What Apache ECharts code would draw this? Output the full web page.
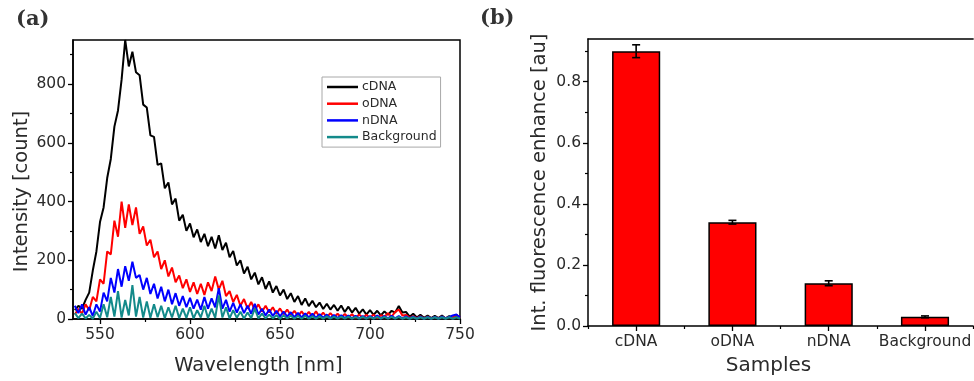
<!DOCTYPE html>
<html>
<head>
<meta charset="utf-8">
<style>html,body{margin:0;padding:0;background:#fff;}#chart{width:974px;height:381px;}</style>
<script src="https://cdn.jsdelivr.net/npm/echarts@6/dist/echarts.min.js"></script>
</head>
<body>
<div id="chart"></div>
<script>
// ---- Panel (a): emission spectra ----
const wavelengths = [
  536,538,540,542,544,546,548,550,552,554,
  556,558,560,562,564,566,568,570,572,574,
  576,578,580,582,584,586,588,590,592,594,
  596,598,600,602,604,606,608,610,612,614,
  616,618,620,622,624,626,628,630,632,634,
  636,638,640,642,644,646,648,650,652,654,
  656,658,660,662,664,666,668,670,672,674,
  676,678,680,682,684,686,688,690,692,694,
  696,698,700,702,704,706,708,710,712,714,
  716,718,720,722,724,726,728,730,732,734,
  736,738,740,742,744,746,748,750
];
const cDNA = [
  30,45,35,65,90,165,230,330,380,480,
  545,655,710,815,950,860,910,840,830,730,
  720,625,620,525,530,445,465,390,410,335,
  355,300,325,278,305,262,290,248,280,240,
  285,235,260,210,232,182,200,155,178,135,
  158,118,142,102,128,90,112,80,100,68,
  88,58,78,48,70,44,62,40,56,34,
  52,32,48,28,46,24,42,22,38,18,
  33,15,30,14,28,12,26,14,28,22,
  44,22,24,8,18,5,14,4,12,3,
  11,3,12,2,10,3,12,5
];
const oDNA = [
  15,35,18,50,30,75,60,135,120,230,
  220,335,280,400,310,390,320,380,290,315,
  250,270,210,230,170,200,145,175,125,148,
  105,135,92,125,85,120,82,125,95,145,
  100,130,78,95,58,82,45,68,35,58,
  30,50,25,45,22,40,18,36,16,32,
  12,28,10,26,9,24,8,26,7,22,
  6,20,6,18,5,17,5,16,4,15,
  4,14,4,15,3,13,8,20,8,24,
  32,12,14,4,10,3,9,2,8,2,
  7,2,8,2,7,5,14,4
];
const nDNA = [
  45,20,50,15,40,10,50,25,90,60,
  140,90,170,110,180,130,195,140,150,100,
  140,85,120,70,110,60,100,50,88,45,
  78,40,72,35,66,32,75,35,70,40,
  105,35,65,25,55,22,50,20,45,18,
  52,15,35,12,32,10,28,9,25,8,
  23,6,21,5,19,5,18,4,16,4,
  15,3,14,3,13,3,12,2,11,2,
  10,2,10,2,12,2,10,2,11,2,
  10,2,9,2,8,1,8,1,7,1,
  7,1,8,2,7,12,15,5
];
const background = [
  20,3,18,2,14,1,25,3,50,6,
  75,8,95,5,65,12,115,8,75,5,
  60,4,50,6,45,3,40,5,45,3,
  35,4,40,2,30,5,45,3,35,4,
  80,5,40,2,30,4,25,2,22,3,
  35,2,18,2,15,2,13,1,12,2,
  11,1,10,1,10,1,9,1,9,1,
  9,1,8,1,8,1,8,1,7,1,
  7,1,7,1,7,1,7,1,7,1,
  7,1,6,1,6,1,6,1,6,1,
  6,1,6,1,6,1,6,1
];
const spectraNames = ['cDNA', 'oDNA', 'nDNA', 'Background'];
const xMajorTicksA = [550, 600, 650, 700, 750];
const xMinorTicksA = [575, 625, 675, 725];
const yMajorTicksA = [0, 200, 400, 600, 800];
const yMinorTicksA = [100, 300, 500, 700, 900];

// ---- Panel (b): integrated enhancement ----
const samples = ['cDNA', 'oDNA', 'nDNA', 'Background'];
const enhance = [0.90, 0.34, 0.14, 0.03];
const enhanceErr = [0.021, 0.006, 0.008, 0.003];
const yMajorTicksB = [0, 0.2, 0.4, 0.6, 0.8];
const yMinorTicksB = [0.1, 0.3, 0.5, 0.7, 0.9];

const FONT = 'DejaVu Sans';
const TXT = '#2a2a2a';
const pair = (arr) => arr.map((v, i) => [wavelengths[i], v]);
const spectra = [cDNA, oDNA, nDNA, background];
const colors = ['#000000', '#ff0000', '#0000ff', '#138a8a'];

const axisLine = { show: true, onZero: false, lineStyle: { color: '#000', width: 1.5 } };

const chart = echarts.init(document.getElementById('chart'));
chart.setOption({
  animation: false,
  backgroundColor: '#fff',
  textStyle: { fontFamily: FONT },
  graphic: [
    { type: 'text', left: 16, top: 9, style: { text: '(a)', font: 'bold 21px "DejaVu Serif"', fill: '#333' } },
    { type: 'text', left: 480, top: 8, style: { text: '(b)', font: 'bold 21px "DejaVu Serif"', fill: '#333' } }
  ],
  legend: {
    data: spectraNames.map((n) => ({ name: n, icon: 'rect' })),
    orient: 'vertical',
    left: 322, top: 77,
    padding: [3, 4, 3, 5],
    itemWidth: 31, itemHeight: 2.5, itemGap: 2.7,
    borderColor: '#a8a8a8', borderWidth: 1,
    textStyle: { fontFamily: FONT, fontSize: 12.5, color: TXT, lineHeight: 14, padding: [0, 0, 0, -1] }
  },
  grid: [
    { left: 73, top: 40, width: 387, height: 288, show: true, borderColor: '#000', borderWidth: 1.5, backgroundColor: 'transparent' },
    { left: 588, top: 39, width: 387, height: 291, show: false }
  ],
  xAxis: [
    {
      gridIndex: 0, type: 'value', min: 535, max: 750, position: 'bottom',
      name: 'Wavelength [nm]', nameLocation: 'middle', nameGap: 37,
      nameTextStyle: { fontFamily: FONT, fontSize: 19.5, color: TXT, padding: [0, 16, 0, 0] },
      axisLine: axisLine,
      axisTick: { show: true, inside: false, length: 5, customValues: xMajorTicksA, lineStyle: { color: '#000', width: 1.3 } },
      axisLabel: { customValues: xMajorTicksA, fontFamily: FONT, fontSize: 15.5, color: TXT, margin: 8 },
      splitLine: { show: false }
    },
    {
      gridIndex: 0, type: 'value', min: 535, max: 750, position: 'bottom',
      axisLine: { show: false },
      axisTick: { show: true, length: 3, customValues: xMinorTicksA, lineStyle: { color: '#000', width: 1.2 } },
      axisLabel: { show: false }, splitLine: { show: false }
    },
    {
      gridIndex: 1, type: 'category', data: samples, position: 'bottom', boundaryGap: true,
      name: 'Samples', nameLocation: 'middle', nameGap: 30,
      nameTextStyle: { fontFamily: FONT, fontSize: 20, color: TXT, padding: [0, 24, 0, 0] },
      axisLine: axisLine,
      axisTick: { show: true, alignWithLabel: true, length: 5, lineStyle: { color: '#000', width: 1.3 } },
      axisLabel: { interval: 0, fontFamily: FONT, fontSize: 15.5, color: TXT, margin: 8 },
      splitLine: { show: false }
    },
    {
      gridIndex: 1, type: 'category', data: samples, position: 'bottom', boundaryGap: true,
      axisLine: { show: false },
      axisTick: { show: true, alignWithLabel: false, length: 3, lineStyle: { color: '#000', width: 1.2 } },
      axisLabel: { show: false }, splitLine: { show: false }
    },
    {
      gridIndex: 1, type: 'category', data: samples, position: 'top', boundaryGap: true,
      axisLine: axisLine,
      axisTick: { show: false },
      axisLabel: { show: false }, splitLine: { show: false }
    }
  ],
  yAxis: [
    {
      gridIndex: 0, type: 'value', min: 0, max: 950, position: 'left',
      name: 'Intensity [count]', nameLocation: 'middle', nameGap: 41,
      nameTextStyle: { fontFamily: FONT, fontSize: 19.5, color: TXT, padding: [0, 24, 0, 0] },
      axisLine: axisLine,
      axisTick: { show: true, length: 5, customValues: yMajorTicksA, lineStyle: { color: '#000', width: 1.3 } },
      axisLabel: { customValues: yMajorTicksA, fontFamily: FONT, fontSize: 15.5, color: TXT, margin: 7 },
      splitLine: { show: false }
    },
    {
      gridIndex: 0, type: 'value', min: 0, max: 950, position: 'left',
      axisLine: { show: false },
      axisTick: { show: true, length: 3, customValues: yMinorTicksA, lineStyle: { color: '#000', width: 1.2 } },
      axisLabel: { show: false }, splitLine: { show: false }
    },
    {
      gridIndex: 1, type: 'value', min: 0, max: 0.94, position: 'left',
      name: 'Int. fluorescence enhance [au]', nameLocation: 'middle', nameGap: 38,
      nameTextStyle: { fontFamily: FONT, fontSize: 19.5, color: TXT, padding: [0, 0, 0, 0] },
      axisLine: axisLine,
      axisTick: { show: true, length: 5, customValues: yMajorTicksB, lineStyle: { color: '#000', width: 1.3 } },
      axisLabel: { customValues: yMajorTicksB, fontFamily: FONT, fontSize: 15.5, color: TXT, margin: 7, formatter: (v) => Number(v).toFixed(1) },
      splitLine: { show: false }
    },
    {
      gridIndex: 1, type: 'value', min: 0, max: 0.94, position: 'left',
      axisLine: { show: false },
      axisTick: { show: true, length: 3, customValues: yMinorTicksB, lineStyle: { color: '#000', width: 1.2 } },
      axisLabel: { show: false }, splitLine: { show: false }
    }
  ],
  series: spectra.map((arr, k) => ({
    name: spectraNames[k],
    type: 'line',
    xAxisIndex: 0, yAxisIndex: 0,
    data: pair(arr),
    symbol: 'none',
    clip: true,
    lineStyle: { color: colors[k], width: 2 },
    itemStyle: { color: colors[k] },
    z: 2 + k
  })).concat([
    {
      type: 'bar',
      xAxisIndex: 2, yAxisIndex: 2,
      data: enhance,
      barWidth: '50%',
      itemStyle: { color: '#ff0000', borderColor: '#000', borderWidth: 1.5 },
      z: 2
    },
    {
      type: 'custom',
      xAxisIndex: 2, yAxisIndex: 2,
      data: enhance.map((v, i) => [i, v - enhanceErr[i], v + enhanceErr[i]]),
      z: 5,
      renderItem: function (params, api) {
        const x = api.value(0);
        const lo = api.coord([x, api.value(1)]);
        const hi = api.coord([x, api.value(2)]);
        const hw = 4;
        const st = { stroke: '#000', lineWidth: 1.6 };
        return {
          type: 'group',
          children: [
            { type: 'line', shape: { x1: lo[0], y1: lo[1], x2: hi[0], y2: hi[1] }, style: st },
            { type: 'line', shape: { x1: lo[0] - hw, y1: lo[1], x2: lo[0] + hw, y2: lo[1] }, style: st },
            { type: 'line', shape: { x1: hi[0] - hw, y1: hi[1], x2: hi[0] + hw, y2: hi[1] }, style: st }
          ]
        };
      }
    }
  ])
});
</script>
</body>
</html>
